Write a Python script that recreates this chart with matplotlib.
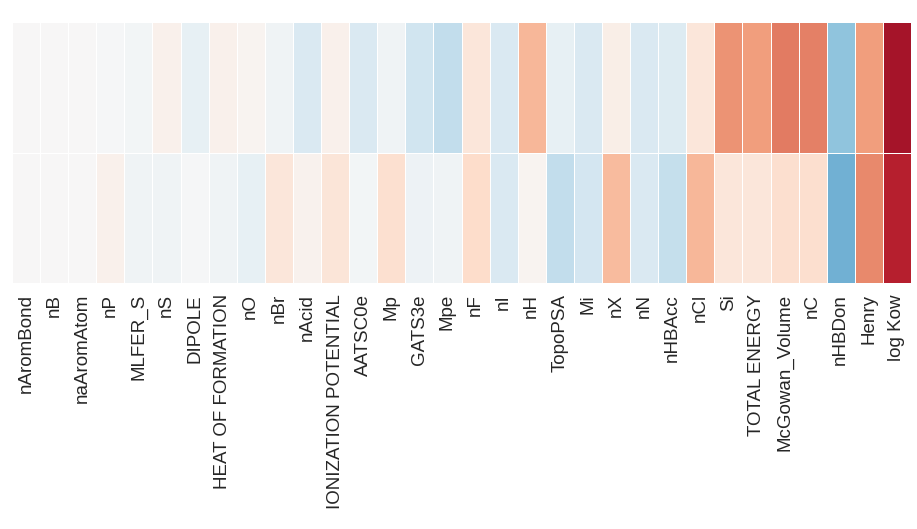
import matplotlib
matplotlib.use("Agg")
import matplotlib.pyplot as plt
import numpy as np
import seaborn as sns

features = ["nAromBond", "nB", "naAromAtom", "nP", "MLFER_S", "nS", "DIPOLE",
            "HEAT OF FORMATION", "nO", "nBr", "nAcid", "IONIZATION POTENTIAL",
            "AATSC0e", "Mp", "GATS3e", "Mpe", "nF", "nI", "nH", "TopoPSA", "Mi",
            "nX", "nN", "nHBAcc", "nCl", "Si", "TOTAL ENERGY", "McGowan_Volume",
            "nC", "nHBDon", "Henry", "log Kow"]

row_top = [0.0, 0.0, 0.0, -0.01, -0.03, 0.05, -0.08, 0.05, 0.03, -0.04, -0.15, 0.05,
           -0.15, -0.04, -0.20, -0.25, 0.12, -0.15, 0.33, -0.08, -0.15, 0.07, -0.15,
           -0.14, 0.12, 0.45, 0.42, 0.52, 0.50, -0.40, 0.42, 0.83]
row_bottom = [0.0, 0.0, 0.0, 0.05, -0.04, -0.04, -0.01, -0.04, -0.08, 0.12, 0.04, 0.13,
              -0.03, 0.16, -0.05, -0.04, 0.18, -0.15, 0.03, -0.25, -0.18, 0.32, -0.15,
              -0.24, 0.33, 0.12, 0.12, 0.17, 0.17, -0.48, 0.48, 0.78]

data = np.array([row_top, row_bottom])

sns.set_style("white")
plt.rcParams['font.family'] = ['Liberation Sans', 'DejaVu Sans']

fig = plt.figure(figsize=(9.17, 5.29), dpi=100)
ax = fig.add_axes([12/917, 1-283/529, 899/917, 261/529])
sns.heatmap(data, ax=ax, cmap="RdBu_r", vmin=-1, vmax=1, cbar=False,
            linewidths=0.6, linecolor="white", xticklabels=features, yticklabels=False)
ax.tick_params(axis='x', labelsize=13.5, rotation=90, length=0, pad=8,
               labelcolor='#262626')
fig.savefig("out.png", dpi=100)
